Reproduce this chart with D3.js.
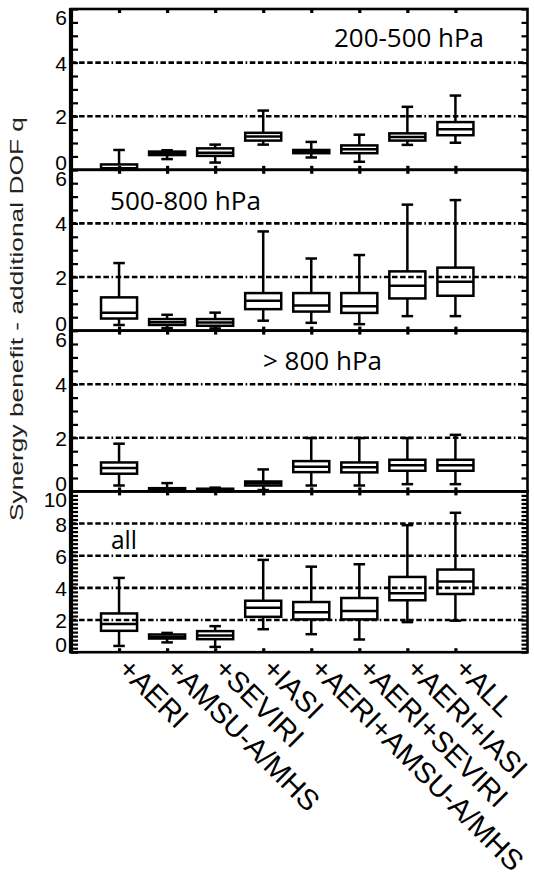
<!DOCTYPE html>
<html><head><meta charset="utf-8">
<script src="https://cdn.jsdelivr.net/npm/d3@7"></script>
<style>body{margin:0;background:#fff}svg{display:block}</style>
</head><body><svg id="c" width="534" height="879"></svg>
<script>
// ---------- data ----------
const categories = ["+AERI","+AMSU-A/MHS","+SEVIRI","+IASI","+AERI+AMSU-A/MHS","+AERI+SEVIRI","+AERI+IASI","+ALL"];
const panelLabels = ["200-500 hPa","500-800 hPa","> 800 hPa","all"];
const panelMax = [6, 6, 6, 10];
const tickLabelsUpper = [0, 2, 4, 6];
const tickLabelsAll = [0, 2, 4, 6, 8, 10];
const gridUpper = [2, 4];
const gridAll = [2, 4, 6, 8];
const yAxisTitle = "Synergy benefit - additional DOF q";
// box statistics per category: [min, q1, median, q3, max]
const stats200_500 = [
  [0.00, 0.01, 0.06, 0.20, 0.74],
  [0.40, 0.55, 0.62, 0.68, 0.73],
  [0.27, 0.52, 0.64, 0.80, 0.94],
  [0.94, 1.09, 1.24, 1.38, 2.21],
  [0.46, 0.62, 0.68, 0.74, 1.04],
  [0.30, 0.62, 0.77, 0.91, 1.31],
  [0.93, 1.09, 1.22, 1.36, 2.35],
  [1.01, 1.29, 1.51, 1.78, 2.77]
];
const stats500_800 = [
  [0.21, 0.45, 0.67, 1.24, 2.52],
  [0.09, 0.21, 0.31, 0.43, 0.59],
  [0.08, 0.18, 0.30, 0.43, 0.67],
  [0.37, 0.80, 1.11, 1.40, 3.70],
  [0.29, 0.71, 0.94, 1.40, 2.69],
  [0.24, 0.66, 0.91, 1.40, 2.82],
  [0.54, 1.20, 1.67, 2.21, 4.70],
  [0.54, 1.30, 1.82, 2.35, 4.87]
];
const stats800 = [
  [0.22, 0.66, 0.87, 1.08, 1.78],
  [0.00, 0.01, 0.05, 0.12, 0.31],
  [0.00, 0.01, 0.04, 0.10, 0.14],
  [0.05, 0.22, 0.30, 0.37, 0.82],
  [0.22, 0.72, 0.92, 1.13, 1.99],
  [0.22, 0.71, 0.90, 1.08, 1.99],
  [0.27, 0.77, 0.98, 1.18, 1.99],
  [0.27, 0.77, 0.98, 1.18, 2.11]
];
const statsAll = [
  [0.39, 1.33, 1.75, 2.41, 4.62],
  [0.61, 0.85, 0.95, 1.10, 1.20],
  [0.33, 0.81, 1.04, 1.31, 1.62],
  [1.43, 2.20, 2.76, 3.20, 5.74],
  [1.12, 2.04, 2.48, 3.12, 5.32],
  [0.79, 2.04, 2.56, 3.37, 5.47],
  [1.87, 3.23, 3.66, 4.68, 7.90],
  [1.96, 3.62, 4.39, 5.14, 8.67]
];
const panelStats = [stats200_500, stats500_800, stats800, statsAll];

// ---------- layout ----------
const svg = d3.select("#c");
svg.append("rect").attr("width",534).attr("height",879).attr("fill","#fff");
const top0 = 9, ph = 160.8;
const x = d3.scaleLinear().domain([0, 9.5]).range([71, 527.5]);
const step = x(1) - x(0);
const dash = "5.5,2.6,5.5,2.6,5.5,2.6,5.5,2.6,5.5,2.6,1.6,2.6";
const labelPos = [
  {x: 334, y: 47, w: 150},
  {x: 110, y: 209.5, w: 151},
  {x: 263, y: 370, w: 119},
  {x: 111, y: 548.5, w: 26}
];
const tickFont = 21;

panelStats.forEach((stats, i) => {
  const y0 = top0 + i * ph, y1 = top0 + (i + 1) * ph;
  const y = d3.scaleLinear().domain([0, panelMax[i]]).range([y1, y0]);
  const g = svg.append("g");
  const grid = i === 3 ? gridAll : gridUpper;
  const minorStep = i === 3 ? 0.25 : 0.5;
  const minor = d3.range(0, panelMax[i] + 1e-6, minorStep);

  // grid lines
  g.selectAll("line.grid").data(grid).join("line")
    .attr("x1", x(0)).attr("x2", x(9.5))
    .attr("y1", d => y(d)).attr("y2", d => y(d))
    .attr("stroke", "#000").attr("stroke-width", 2.6)
    .attr("stroke-dasharray", dash);

  // left minor ticks (inward)
  g.append("g").attr("transform", `translate(${x(0)},0)`)
    .call(d3.axisLeft(y).tickValues(minor).tickSize(-7).tickFormat(""))
    .call(a => a.select(".domain").remove())
    .call(a => a.selectAll("line").attr("stroke-width", 2.2));
  // right minor ticks (inward)
  g.append("g").attr("transform", `translate(${x(9.5)},0)`)
    .call(d3.axisRight(y).tickValues(minor).tickSize(-6).tickFormat(""))
    .call(a => a.select(".domain").remove())
    .call(a => a.selectAll("line").attr("stroke-width", 2.2));
  // top and bottom category ticks
  const cats = d3.range(1, categories.length + 1);
  g.append("g").attr("transform", `translate(0,${y1})`)
    .call(d3.axisBottom(x).tickValues(cats).tickSize(-4).tickFormat(""))
    .call(a => a.select(".domain").remove())
    .call(a => a.selectAll("line").attr("stroke-width", 3.2));
  g.append("g").attr("transform", `translate(0,${y0})`)
    .call(d3.axisTop(x).tickValues(cats).tickSize(-4).tickFormat(""))
    .call(a => a.select(".domain").remove())
    .call(a => a.selectAll("line").attr("stroke-width", 3.2));

  // y tick labels
  const lab = i === 3 ? tickLabelsAll : tickLabelsUpper;
  g.append("g").attr("transform", `translate(${x(0)},0)`)
    .call(d3.axisLeft(y).tickValues(lab).tickSize(0).tickPadding(4).tickFormat(d3.format("d")))
    .call(a => a.select(".domain").remove())
    .call(a => a.selectAll("text")
      .attr("font-family", "'Liberation Sans', Arial, sans-serif")
      .attr("font-size", tickFont).attr("fill", "#000")
      .attr("dy", d => d === 0 ? "-0.5px" : d === panelMax[i] ? `${0.716 * tickFont + 0.5}px` : `${0.716 * tickFont / 2}px`));

  // boxes
  const bw = step * 0.375, cw = step * 0.12;
  const bx = g.selectAll("g.box").data(stats).join("g")
    .attr("transform", (d, j) => `translate(${x(j + 1)},0)`);
  const sty = s => s.attr("stroke", "#000").attr("stroke-width", 2.5).attr("fill", "none");
  bx.append("line").attr("x1",0).attr("x2",0).attr("y1", d => y(d[4])).attr("y2", d => y(d[3])).call(sty);
  bx.append("line").attr("x1",0).attr("x2",0).attr("y1", d => y(d[1])).attr("y2", d => y(d[0])).call(sty);
  bx.append("line").attr("x1",-cw).attr("x2",cw).attr("y1", d => y(d[4])).attr("y2", d => y(d[4])).call(sty);
  bx.append("line").attr("x1",-cw).attr("x2",cw).attr("y1", d => y(d[0])).attr("y2", d => y(d[0])).call(sty);
  bx.append("rect").attr("x", -bw).attr("width", 2 * bw)
    .attr("y", d => y(d[3])).attr("height", d => y(d[1]) - y(d[3])).call(sty);
  bx.append("line").attr("x1",-bw).attr("x2",bw).attr("y1", d => y(d[2])).attr("y2", d => y(d[2])).call(sty);

  // frame
  g.append("rect").attr("x", x(0)).attr("y", y0).attr("width", x(9.5) - x(0)).attr("height", ph)
    .attr("fill", "none").attr("stroke", "#000").attr("stroke-width", 2.6);
  g.append("line").attr("x1", x(0)).attr("x2", x(0)).attr("y1", y0 - 1).attr("y2", y1 + 1)
    .attr("stroke", "#000").attr("stroke-width", 4.2);

  // panel label
  g.append("text").attr("x", labelPos[i].x).attr("y", labelPos[i].y)
    .attr("font-family", "'Open Sans', sans-serif").attr("font-size", 25)
    .attr("textLength", labelPos[i].w).attr("lengthAdjust", "spacingAndGlyphs")
    .attr("fill", "#000").text(panelLabels[i]);

  // category labels under last panel
  if (i === 3) {
    svg.append("g").attr("transform", `translate(0,${y1})`)
      .call(d3.axisBottom(x).tickValues(cats).tickSize(0).tickFormat(d => categories[d - 1]))
      .call(a => a.select(".domain").remove())
      .call(a => a.selectAll("text")
        .attr("x", 0).attr("y", 0).attr("dy", null)
        .attr("text-anchor", "start")
        .attr("transform", "translate(-3,18) rotate(45)")
        .attr("font-family", "'Liberation Sans', Arial, sans-serif")
        .attr("font-size", 29).attr("fill", "#000"));
  }
});

// y axis title
svg.append("text").attr("transform", "translate(23,319) rotate(-90)")
  .attr("text-anchor", "middle")
  .attr("font-family", "'Liberation Sans', Arial, sans-serif")
  .attr("font-size", 18).attr("fill", "#222")
  .attr("textLength", 404).attr("lengthAdjust", "spacingAndGlyphs")
  .text(yAxisTitle);
</script></body></html>
